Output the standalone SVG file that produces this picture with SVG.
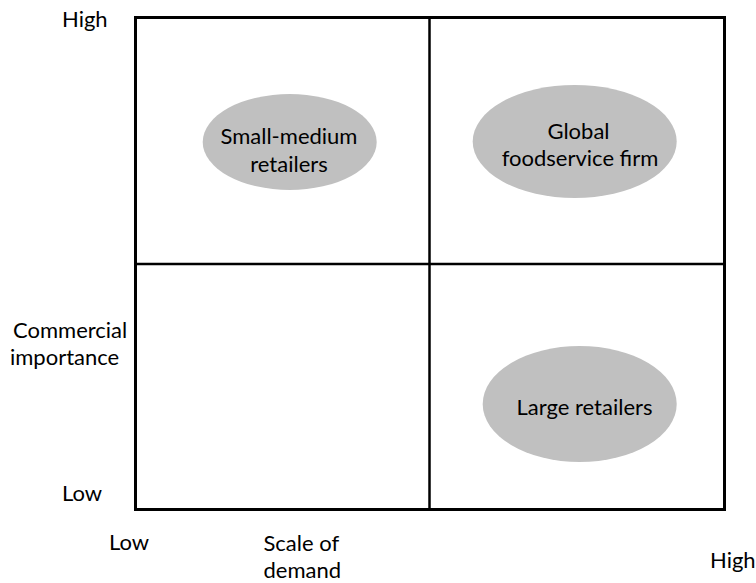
<svg xmlns="http://www.w3.org/2000/svg" width="756" height="583" viewBox="0 0 756 583">
<style>
text{font-family:Lato,"Open Sans","Liberation Sans",sans-serif;font-size:22px;fill:#000}
.c{text-anchor:middle}
.blob{fill:#c0c0c0;stroke:none}
.grid{stroke:#000;fill:none}
</style>
<rect width="756" height="583" fill="#fff"/>
<g id="grid">
<rect class="grid" x="135.5" y="17.5" width="589" height="492" stroke-width="3"/>
<line class="grid" x1="429.5" y1="17.5" x2="429.5" y2="509.5" stroke-width="2.5"/>
<line class="grid" x1="135.5" y1="264" x2="724.5" y2="264" stroke-width="2.5"/>
</g>
<g id="node-small-medium">
<ellipse class="blob" cx="289.7" cy="142" rx="87" ry="48"/>
<text class="c" x="289" y="144">Small-medium</text>
<text class="c" x="289" y="171.5">retailers</text>
</g>
<g id="node-global">
<ellipse class="blob" cx="574.7" cy="141.5" rx="102" ry="56.5"/>
<text class="c" x="578.5" y="138.5">Global</text>
<text class="c" x="580" y="165.5">foodservice firm</text>
</g>
<g id="node-large">
<ellipse class="blob" cx="579.7" cy="404" rx="97" ry="58"/>
<text class="c" x="584.5" y="415">Large retailers</text>
</g>
<g id="labels">
<text x="62" y="26.5">High</text>
<text x="13" y="337.5">Commercial</text>
<text x="10" y="364.5">importance</text>
<text x="62" y="500.5">Low</text>
<text x="109" y="549.5">Low</text>
<text x="263.5" y="550.5">Scale of</text>
<text x="263.5" y="577.5">demand</text>
<text x="710" y="568">High</text>
</g>
<g id="connectors"></g>
</svg>
